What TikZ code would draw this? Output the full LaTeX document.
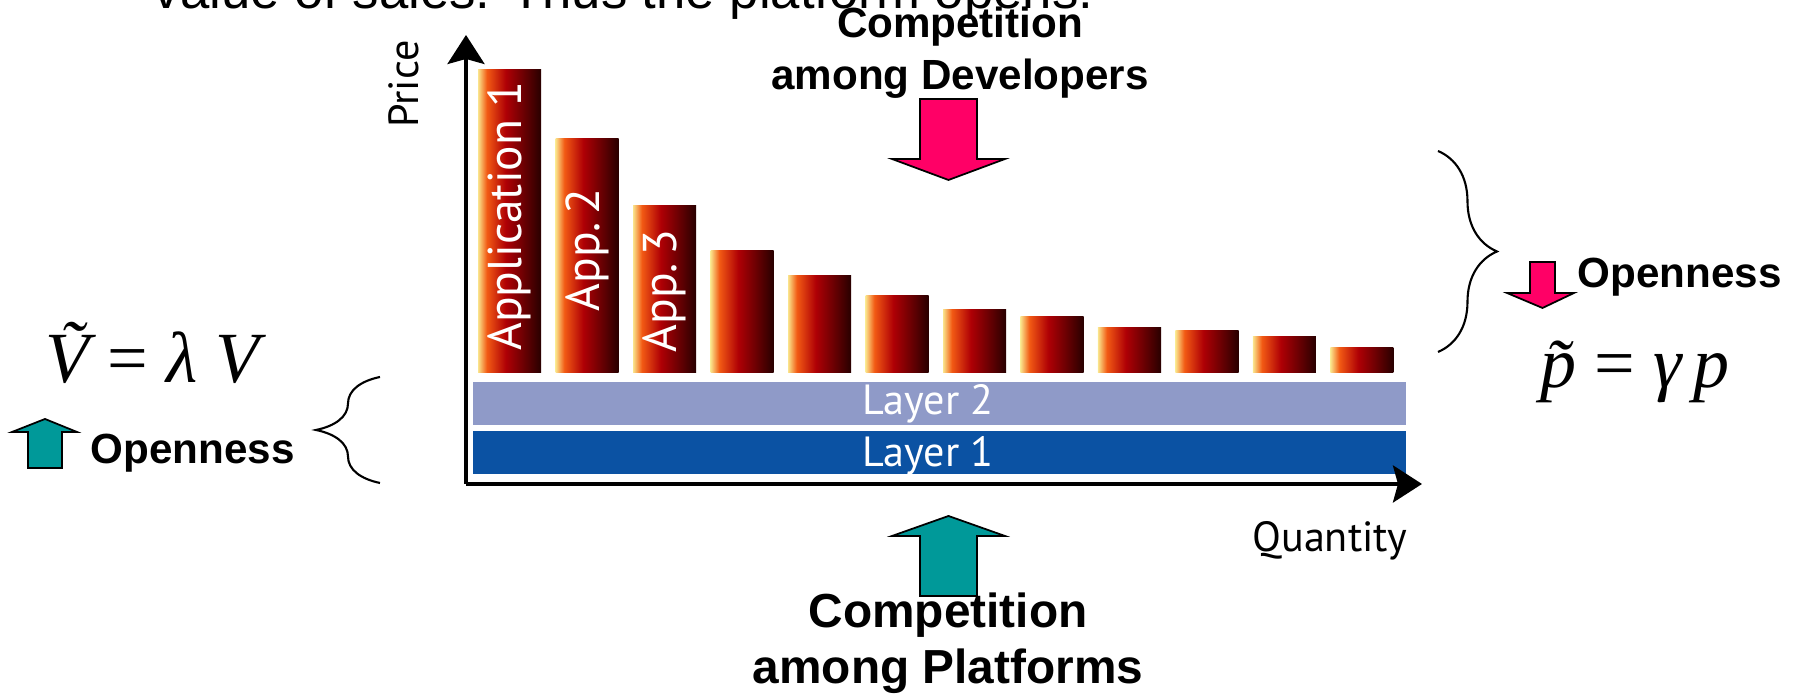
\documentclass[tikz,border=0pt]{standalone}
\usepackage{fontspec}
\setmainfont{Liberation Sans}
\newfontfamily\chartfont{PT Sans}
\newfontfamily\eqfont{Liberation Serif}
\usetikzlibrary{positioning,calc}
\usetikzlibrary{arrows.meta,decorations.pathreplacing}
\definecolor{BarLight}{RGB}{250,228,140}
\definecolor{BarOrange}{RGB}{242,90,20}
\definecolor{BarRed}{RGB}{175,0,5}
\definecolor{BarDark}{RGB}{40,0,0}
\definecolor{LayerTwo}{RGB}{143,154,200}
\definecolor{LayerOne}{RGB}{11,82,163}
\definecolor{DevPink}{RGB}{255,0,102}
\definecolor{PlatTeal}{RGB}{0,153,153}
\pgfdeclarehorizontalshading{appbar}{100bp}{color(0bp)=(BarLight); color(25bp)=(BarLight);
  color(32bp)=(BarOrange); color(47bp)=(BarRed); color(75bp)=(BarDark); color(100bp)=(BarDark)}
\tikzset{
  axis/.style={line width=1.1pt,-{Stealth[length=2.9mm,width=3.7mm,inset=0.5mm]}},
  applab/.style={rotate=90,text=white,font=\chartfont\fontsize{13.5}{13.5}\selectfont,inner sep=0pt},
  layerlab/.style={text=white,font=\chartfont\fontsize{12}{12}\selectfont,inner sep=0pt,anchor=base},
  axlab/.style={font=\chartfont\fontsize{12}{12}\selectfont,inner sep=0pt},
  headline/.style={font=\bfseries\fontsize{12}{12}\selectfont,inner sep=0pt,anchor=base},
  footline/.style={font=\bfseries\fontsize{13.6}{13.6}\selectfont,inner sep=0pt,anchor=base},
  openlab/.style={font=\bfseries\fontsize{12}{12}\selectfont,inner sep=0pt,anchor=base west},
  eq/.style={font=\eqfont\fontsize{20.5}{20.5}\selectfont,inner sep=0pt,anchor=base west},
  blockarrow/.style={draw=black,line width=0.5pt,line join=miter},
  curly/.style={draw=black,line width=0.6pt,decorate,decoration={brace,amplitude=#1}},
}
\tikzset{bodytext/.style={font=\fontsize{15}{15}\selectfont,inner sep=0pt,anchor=base west}}

\begin{document}
\begin{tikzpicture}
\useasboundingbox (0,0) rectangle (17.97,6.94);
% line of slide text cut off at the top
\begin{scope}
\clip (0,0) rectangle (17.97,6.94);
\node[bodytext] (slideline) at (1.53,6.855) {value of sales. Thus the platform opens.};
\end{scope}
\coordinate (o) at (4.66,2.10);
\coordinate (ytip) at (4.66,6.59);
\coordinate (xtip) at (14.22,2.10);
% platform layers
\fill[LayerOne] (4.73,2.20) rectangle (14.06,2.63);
\fill[LayerTwo] (4.73,2.69) rectangle (14.06,3.12);
\node[layerlab] (layer1) at (9.28,2.27) {Layer 1};
\node[layerlab] (layer2) at (9.28,2.79) {Layer 2};
% applications
\foreach \h [count=\i from 0] in {6.24,5.55,4.88,4.43,4.18,3.98,3.84,3.77,3.66,3.63,3.57,3.46}
  \shade[shading=appbar] ({4.78+0.775*\i},3.21) rectangle ({5.41+0.775*\i},\h);
\node[applab] (app1) at (5.095,4.78) {Application 1};
\node[applab] (app2) at (5.87,4.44) {App.\,2};
\node[applab] (app3) at (6.645,4.03) {App.\,3};
% axes
\draw[axis] (o) -- (ytip);
\draw[axis] (o) -- (xtip);
\node[axlab,rotate=90] (price) at (4.04,6.10) {Price};
\node[axlab,anchor=base] (qty) at (13.30,1.42) {Quantity};
% developers
\node[headline] (devs1) at (9.60,6.56) {Competition};
\node[headline] (devs2) at (9.60,6.04) {among Developers};
\draw[blockarrow,fill=DevPink] (9.20,5.95) -- (9.77,5.95) -- (9.77,5.35) -- (10.05,5.35)
  -- (9.485,5.14) -- (8.92,5.35) -- (9.20,5.35) -- cycle;
% platforms
\draw[blockarrow,fill=PlatTeal] (9.20,0.98) -- (9.77,0.98) -- (9.77,1.58) -- (10.05,1.58)
  -- (9.485,1.78) -- (8.92,1.58) -- (9.20,1.58) -- cycle;
\node[footline] (plat1) at (9.48,0.66) {Competition};
\node[footline] (plat2) at (9.48,0.10) {among Platforms};
% price side
\draw[curly=0.59cm] (14.38,5.43) -- (14.38,3.42);
\draw[blockarrow,fill=DevPink] (15.30,4.32) -- (15.55,4.32) -- (15.55,4.01) -- (15.74,4.01)
  -- (15.425,3.86) -- (15.07,4.01) -- (15.30,4.01) -- cycle;
\node[openlab] (openR) at (15.77,4.06) {Openness};
\node[eq] (peq) at (15.40,3.06) {\itshape\~{p} \upshape= \itshape γ\,p};
% value side
\draw[curly=0.64cm] (3.80,2.11) -- (3.80,3.17);
\draw[blockarrow,fill=PlatTeal] (0.28,2.26) -- (0.62,2.26) -- (0.62,2.62) -- (0.77,2.62)
  -- (0.45,2.75) -- (0.12,2.62) -- (0.28,2.62) -- cycle;
\node[openlab] (openL) at (0.90,2.30) {Openness};
\node[eq] (veq) at (0.45,3.11) {\itshape\~{V} \upshape= \itshape λ V};
\end{tikzpicture}
\end{document}
